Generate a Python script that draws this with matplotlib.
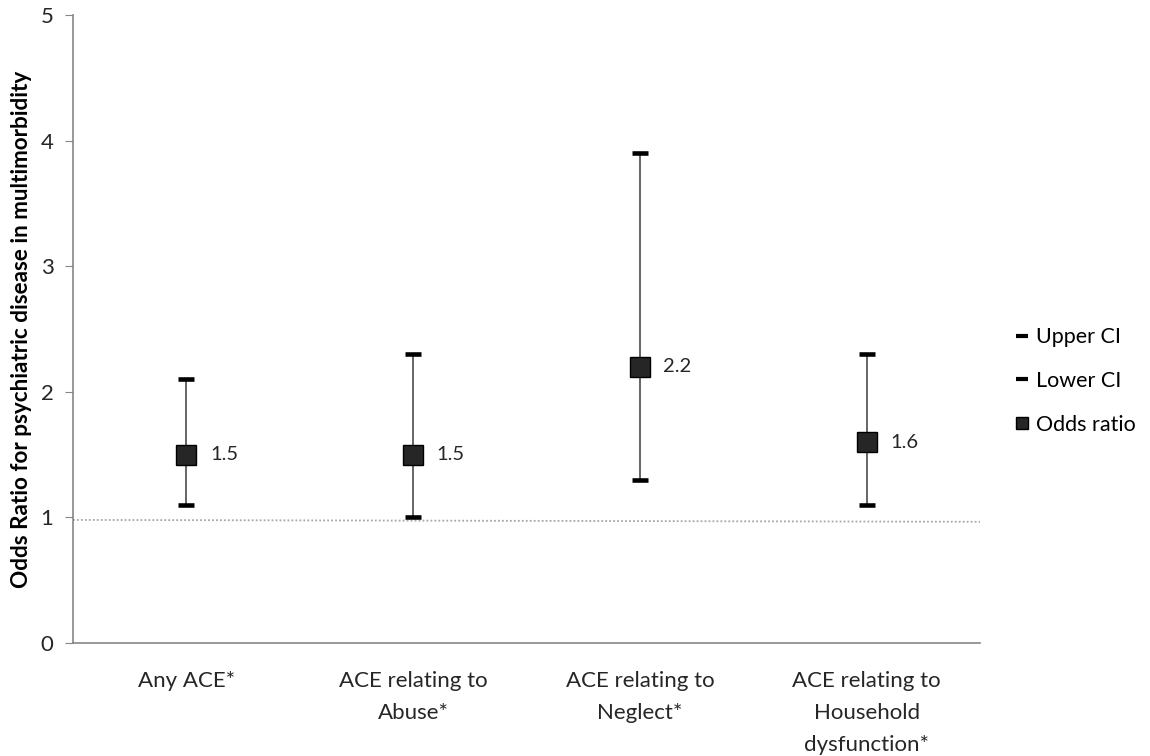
import matplotlib.pyplot as plt
from matplotlib.lines import Line2D

# chart data
categories = ['Any ACE*', 'ACE relating to\nAbuse*', 'ACE relating to\nNeglect*',
              'ACE relating to\nHousehold\ndysfunction*']
odds_ratio = [1.5, 1.5, 2.2, 1.6]
upper_ci = [2.1, 2.3, 3.9, 2.3]
lower_ci = [1.1, 1.0, 1.3, 1.1]
ref_line = [0.98, 0.965]  # dotted reference line (left end, right end)

plt.rcParams['font.family'] = ['Lato', 'DejaVu Sans']
FS = 16

fig = plt.figure(figsize=(11.5, 7.56), dpi=100)
ax = fig.add_axes([73 / 1150, 1 - 643 / 756, 907 / 1150, 628 / 756])

x = list(range(len(categories)))

# reference line near 1
ax.plot([-0.5, len(categories) - 0.5], ref_line, color='#a6a6a6', linestyle=(0, (1, 1.2)),
        linewidth=1.3, zorder=1)

# whiskers
ax.vlines(x, lower_ci, upper_ci, color='#595959', linewidth=1.3, zorder=2)
ax.plot(x, upper_ci, linestyle='none', marker='_', markersize=11, markeredgewidth=3.3,
        color='black', zorder=3)
ax.plot(x, lower_ci, linestyle='none', marker='_', markersize=11, markeredgewidth=3.3,
        color='black', zorder=3)
ax.plot(x, odds_ratio, linestyle='none', marker='s', markersize=15, markerfacecolor='#262626',
        markeredgecolor='black', markeredgewidth=1, zorder=4)

for xi, v in zip(x, odds_ratio):
    ax.annotate(f'{v:.1f}', (xi, v), xytext=(17, 0), textcoords='offset points',
                va='center', ha='left', fontsize=FS - 1.5, color='#262626')

ax.set_xlim(-0.5, len(categories) - 0.5)
ax.set_ylim(0, 5)
ax.set_yticks([0, 1, 2, 3, 4, 5])
ax.set_xticks(x)
ax.set_xticklabels(categories, fontsize=FS, color='#262626', linespacing=1.75)
ax.tick_params(axis='x', length=0, pad=20)
ax.tick_params(axis='y', length=6, color='#868686', labelsize=FS, labelcolor='#262626', pad=8)

for s in ['top', 'right']:
    ax.spines[s].set_visible(False)
for s in ['left', 'bottom']:
    ax.spines[s].set_color('#868686')
    ax.spines[s].set_linewidth(1.2)

ax.set_ylabel('Odds Ratio for psychiatric disease in multimorbidity', fontsize=16.2,
              fontweight='bold', labelpad=6)

handles = [
    Line2D([], [], linestyle='none', marker='_', markersize=9, markeredgewidth=3, color='black'),
    Line2D([], [], linestyle='none', marker='_', markersize=9, markeredgewidth=3, color='black'),
    Line2D([], [], linestyle='none', marker='s', markersize=9, markerfacecolor='#262626',
           markeredgecolor='black'),
]
fig.legend(handles, ['Upper CI', 'Lower CI', 'Odds ratio'], loc='center left',
           bbox_to_anchor=(995 / 1150, 1 - 381 / 756), frameon=False, fontsize=FS - 0.5,
           handlelength=0.7, handletextpad=0.3, labelspacing=1.1)

fig.savefig('out.png', dpi=100)
